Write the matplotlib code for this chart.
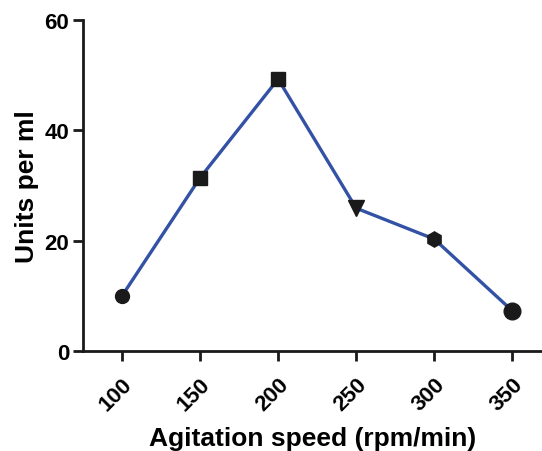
import matplotlib
matplotlib.use("Agg")
import matplotlib.pyplot as plt

speeds = [100, 150, 200, 250, 300, 350]
units = [10.0, 31.4, 49.3, 25.9, 20.3, 7.3]
markers = ['o', 's', 's', 'v', 'h', 'o']
marker_sizes = [10, 10, 10, 11, 11, 12]
xticks = [100, 150, 200, 250, 300, 350]
yticks = [0, 20, 40, 60]

plt.rcParams['font.family'] = ['Liberation Sans', 'DejaVu Sans']
plt.rcParams['font.weight'] = 'bold'

fig = plt.figure(figsize=(5.42, 4.52), dpi=100)
ax = fig.add_axes([0.153, 0.221, 0.847, 0.7325])
ax.plot(speeds, units, color='#3352A6', lw=2.4, zorder=2)
for x, y, m, s in zip(speeds, units, markers, marker_sizes):
    ax.plot([x], [y], marker=m, color='#1a1a1a', ms=s, zorder=3, ls='none')

ax.set_xlim(75, 369)
ax.set_ylim(0, 60)
ax.set_xticks(xticks)
ax.set_yticks(yticks)
ax.spines['top'].set_visible(False)
ax.spines['right'].set_visible(False)
for sp in ['left', 'bottom']:
    ax.spines[sp].set_linewidth(2)
    ax.spines[sp].set_color('#1a1a1a')
ax.tick_params(width=2, length=7, color='#1a1a1a', labelsize=16, pad=3)
ax.tick_params(axis='x', pad=9)
ax.set_xticklabels([str(v) for v in xticks], rotation=45, ha='right', rotation_mode='anchor', fontweight='bold')
ax.set_yticklabels([str(v) for v in yticks], fontweight='bold')
ax.set_xlabel('Agitation speed (rpm/min)', fontsize=19, fontweight='bold', labelpad=8)
ax.set_ylabel('Units per ml', fontsize=19, fontweight='bold', labelpad=4)
fig.savefig('out.png', dpi=100)
